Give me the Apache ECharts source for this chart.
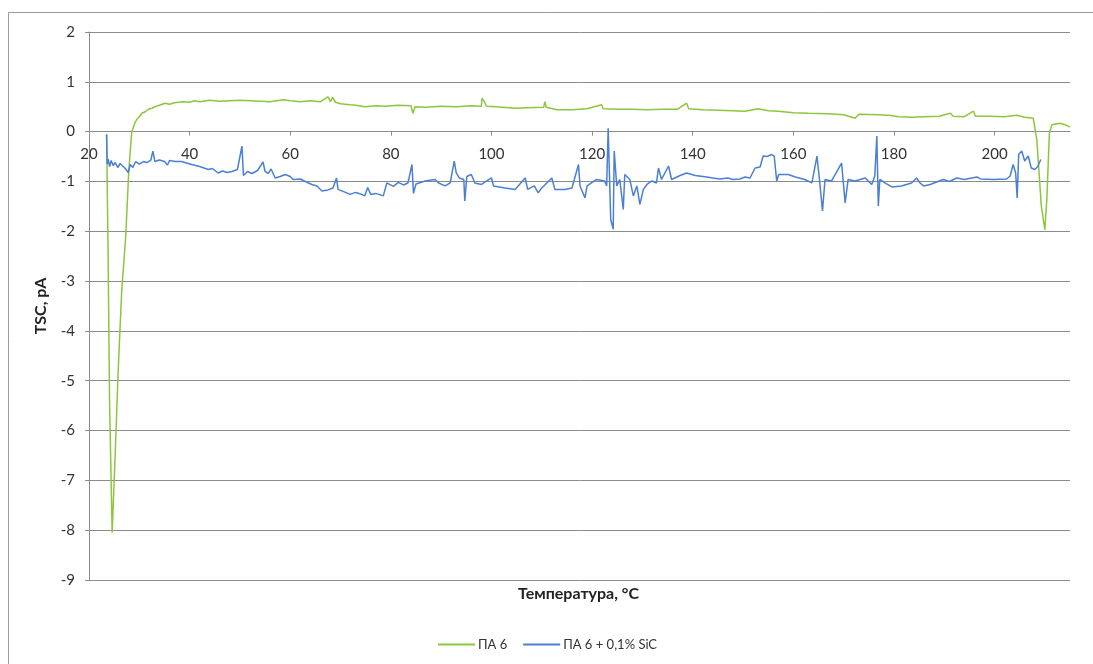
<!DOCTYPE html>
<html>
<head>
<meta charset="utf-8">
<script src="https://cdn.jsdelivr.net/npm/echarts@6/dist/echarts.min.js"></script>
<style>
html,body{margin:0;padding:0;background:#fff;}
#chart{width:1093px;height:664px;}
</style>
</head>
<body>
<div id="chart"></div>
<script>
// ---- Data ----
const seriesNames = ['ПА 6', 'ПА 6 + 0,1% SiC'];
const xTitle = 'Температура, °C';
const yTitle = 'TSC, pA';

const greenT = [23.5,23.8,24.1,24.6,25.2,25.8,26.5,27.3,27.9,28.5,29.1,29.6,30.0,30.5,31.2,31.8,32.5,33.1,34,35.1,36,37,38.6,40,41,42,44,46,48,50,52,54,56,58.6,60,62,64,66,67.5,68,68.4,69,70,71.9,73,74.8,77,79,81.4,84,84.4,84.8,87,90,93,96,98,98.1,98.6,99,101,104.7,107,110.4,110.6,110.9,113,116,119,121.9,122.2,125,128,131,134,137,138.8,139.2,142,145,148,150.4,153,155,157,160,163,167,170,172.3,173,176.9,179,181,183.5,186,189,191.2,191.8,194,195.8,196.2,199,202,204.4,206,207.7,208.4,209.3,210.0,210.4,210.9,211.4,213,214,215];
const greenV = [-0.05,-2.5,-5.5,-8.05,-6.5,-4.8,-3.2,-2.1,-0.8,0.0,0.17,0.26,0.3,0.37,0.40,0.45,0.47,0.5,0.53,0.57,0.55,0.58,0.6,0.59,0.62,0.6,0.63,0.61,0.62,0.63,0.62,0.61,0.6,0.64,0.62,0.6,0.62,0.6,0.7,0.6,0.69,0.59,0.56,0.54,0.53,0.5,0.52,0.51,0.53,0.52,0.37,0.5,0.49,0.51,0.5,0.52,0.51,0.67,0.6,0.51,0.5,0.47,0.48,0.49,0.6,0.49,0.44,0.44,0.46,0.54,0.46,0.45,0.45,0.44,0.45,0.45,0.57,0.46,0.44,0.43,0.42,0.41,0.46,0.42,0.41,0.38,0.37,0.36,0.34,0.27,0.35,0.34,0.33,0.3,0.29,0.3,0.31,0.37,0.31,0.3,0.41,0.31,0.31,0.3,0.33,0.29,0.27,-0.16,-1.49,-1.97,-1.35,-0.03,0.14,0.17,0.14,0.09];

const blueT = [23.5,23.6,23.8,24.1,24.4,24.8,25.2,25.7,26.2,26.8,27.3,27.8,28.2,28.7,29.3,30,30.8,31.5,32.3,32.7,33.1,34,35,35.6,36,37.2,38.4,40.4,42,43.7,44.5,45.7,46.5,47.5,48.4,49.5,50.4,50.7,51.5,52.4,53.5,54.6,55,55.6,56.2,57,58,59,60,60.6,62,63,64.3,65.3,66.3,67.5,68.5,69.2,69.5,70.5,71.9,73,74,74.8,75.4,76,77,78.5,79.2,80.5,81.5,82.5,83.4,84.2,84.5,85,86.8,88.8,89.5,90.8,91.8,92.6,93,93.6,94.5,94.7,95.1,96,96.7,98,100,100.4,102.7,104.7,106.7,107.2,108.5,109.3,110,112,112.6,114.6,116,117.3,117.6,118.6,119,120.9,122.5,122.9,123.2,123.7,124.2,124.4,124.9,125.5,126.2,126.5,127.5,128.2,128.9,129.5,130.2,130.9,131.9,132.8,133.2,133.8,135.2,135.8,137.5,138.8,140.5,142.8,144,145.4,147,148,149.4,150.4,151.4,152.4,153.4,154,154.8,155.7,156.2,156.7,157.1,159,160.4,162.3,163.7,164.7,165.2,165.8,166.3,167.6,169.6,170.3,170.9,172.3,174.3,175.6,176.2,176.6,176.9,177.2,178.2,179.6,181.5,183.5,184.5,185.2,185.9,187.2,189.8,191,192.5,194,196.5,197.2,199.8,202.4,203.1,203.7,204.2,204.5,204.8,205.4,206,206.7,207.3,208,208.6,209.2];
const blueV = [-0.06,-0.65,-0.55,-0.7,-0.58,-0.68,-0.62,-0.72,-0.64,-0.7,-0.75,-0.82,-0.66,-0.72,-0.6,-0.65,-0.6,-0.62,-0.57,-0.39,-0.6,-0.57,-0.6,-0.67,-0.58,-0.6,-0.6,-0.66,-0.7,-0.76,-0.74,-0.83,-0.79,-0.82,-0.8,-0.76,-0.29,-0.88,-0.8,-0.84,-0.78,-0.61,-0.8,-0.84,-0.75,-0.93,-0.9,-0.86,-0.9,-0.96,-0.95,-1.0,-1.06,-1.09,-1.19,-1.17,-1.13,-0.93,-1.16,-1.2,-1.26,-1.22,-1.25,-1.29,-1.12,-1.26,-1.24,-1.29,-1.03,-1.1,-1.02,-1.07,-1.03,-0.66,-1.24,-1.05,-0.99,-0.96,-1.03,-1.09,-1.03,-0.59,-0.83,-0.93,-0.96,-1.39,-0.9,-0.86,-1.03,-1.06,-0.93,-1.09,-1.13,-1.16,-0.93,-1.16,-1.09,-1.23,-1.13,-0.93,-1.16,-1.16,-1.13,-0.66,-1.09,-1.33,-1.09,-0.96,-0.99,-1.09,0.07,-1.76,-1.96,-0.39,-1.09,-0.96,-1.56,-0.86,-0.96,-1.29,-1.09,-1.46,-1.16,-1.06,-0.99,-1.03,-0.73,-0.96,-0.69,-0.96,-0.88,-0.83,-0.88,-0.91,-0.93,-0.95,-0.93,-0.96,-0.95,-0.91,-0.93,-0.73,-0.71,-0.49,-0.5,-0.46,-0.49,-0.99,-0.86,-0.86,-0.91,-0.96,-1.03,-0.49,-0.96,-1.59,-0.96,-0.99,-0.63,-1.43,-0.96,-0.99,-0.93,-1.06,-0.89,-0.09,-1.49,-0.96,-1.03,-1.11,-1.09,-1.03,-0.93,-1.03,-1.09,-1.06,-0.96,-1.0,-0.93,-0.96,-0.91,-0.95,-0.96,-0.95,-0.89,-0.66,-0.83,-1.33,-0.46,-0.39,-0.59,-0.49,-0.73,-0.76,-0.7,-0.56];

const xMin = 20, xMax = 215, xStep = 20;
const yMin = -9, yMax = 2, yStep = 1;

// ---- Chart ----
const W = 1093, H = 664;
const gridL = 89, gridR = 23, gridT = 32, gridB = 84;
const plotH = H - gridT - gridB;
const zeroY = gridT + plotH * (yMax - 0) / (yMax - yMin);
const xAxisOffset = -((H - gridB) - zeroY);

const chart = echarts.init(document.getElementById('chart'), null, {renderer: 'canvas'});
const font = 'Lato, "Open Sans", sans-serif';
const grey = '#8c8c8c';

chart.setOption({
  animation: false,
  backgroundColor: '#ffffff',
  graphic: [
    { type: 'rect', z: -1, shape: { x: 8.5, y: 12.5, width: 1100, height: 700 },
      style: { fill: 'none', stroke: '#9a9a9a', lineWidth: 1 } },
    { type: 'text', left: 518, top: 586,
      style: { text: xTitle, font: 'bold 16px ' + font, fill: '#222' } }
  ],
  grid: { left: gridL, right: gridR, top: gridT, bottom: gridB, containLabel: false },
  legend: {
    left: 433, top: 633,
    icon: 'rect', itemWidth: 37, itemHeight: 2, itemGap: 16,
    textStyle: { fontFamily: font, fontSize: 13, color: '#333', padding: [0, 0, 0, -2] },
    data: seriesNames
  },
  xAxis: {
    type: 'value', min: xMin, max: xMax, interval: xStep,
    offset: xAxisOffset,
    axisLine: { show: true, onZero: false, lineStyle: { color: grey, width: 1 } },
    axisTick: { show: true, length: 4, lineStyle: { color: grey } },
    axisLabel: { fontFamily: font, fontSize: 15, color: '#333', margin: 15, showMaxLabel: false,
      formatter: v => (v % 20 === 0 ? String(v) : '') },
    splitLine: { show: false }
  },
  yAxis: {
    type: 'value', min: yMin, max: yMax, interval: yStep,
    name: yTitle, nameLocation: 'middle', nameGap: 40, nameRotate: 90,
    nameTextStyle: { fontFamily: font, fontSize: 16, fontWeight: 'bold', color: '#222' },
    axisLine: { show: true, lineStyle: { color: grey, width: 1 } },
    axisTick: { show: true, length: 4, lineStyle: { color: grey } },
    axisLabel: { fontFamily: font, fontSize: 15, color: '#333', margin: 14 },
    splitLine: { show: true, lineStyle: { color: grey, width: 1 } }
  },
  series: [
    { name: seriesNames[0], type: 'line', symbol: 'none', showSymbol: false,
      lineStyle: { color: '#8cc63e', width: 1.5 }, itemStyle: { color: '#8cc63e' },
      data: greenT.map((t, i) => [t, greenV[i]]) },
    { name: seriesNames[1], type: 'line', symbol: 'none', showSymbol: false,
      lineStyle: { color: '#4a7fd4', width: 1.5 }, itemStyle: { color: '#4a7fd4' },
      data: blueT.map((t, i) => [t, blueV[i]]) }
  ]
});
</script>
</body>
</html>
